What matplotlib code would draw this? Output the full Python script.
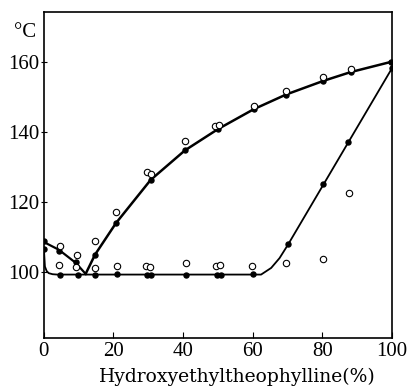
import matplotlib
matplotlib.use("Agg")
import matplotlib.pyplot as plt

# Curves
liq_left_x = [0, 4.3, 9.1, 12.0]
liq_left_y = [108.5, 106.3, 102.6, 99.4]
liq_right_x = [12.0, 14.7, 20.7, 30.7, 40.5, 50.0, 60.3, 69.6, 80.3, 88.1, 100]
liq_right_y = [99.4, 104.9, 113.9, 126.3, 134.7, 140.8, 146.5, 150.7, 154.6, 157.1, 160.1]
sol_x = [0, 0.3, 0.8, 1.4, 2.5, 3.8, 62.4, 65.3, 67.7, 70.1, 100]
sol_y = [106.7, 101.5, 100.2, 99.6, 99.3, 99.2, 99.2, 101.1, 103.9, 107.7, 158.2]

# Filled points
filled_x = [0, 4.4, 9.2, 14.7, 20.7, 30.7, 40.5, 49.9, 60.3, 69.6, 80.3, 88.1, 99.7,
            0, 4.6, 9.8, 14.7, 20.9, 29.6, 30.8, 40.9, 49.6, 50.9, 60.1,
            70.1, 80.3, 87.4, 100]
filled_y = [108.7, 106.0, 102.7, 104.9, 113.9, 126.3, 134.7, 140.8, 146.5, 150.7, 154.6, 157.1, 160.1,
            106.6, 99.2, 99.2, 99.2, 99.3, 99.2, 99.2, 99.2, 99.2, 99.2, 99.4,
            108.0, 125.0, 137.2, 158.2]

# Open points
open_x = [4.5, 4.4, 9.6, 9.3, 14.6, 14.7, 20.7, 20.9, 29.3, 30.5, 29.6, 30.7, 40.7, 40.5,
          49.4, 50.5, 49.2, 50.4, 59.9, 60.3, 69.7, 69.6, 80.3, 80.2, 87.8, 88.1]
open_y = [107.4, 101.9, 104.8, 101.3, 108.9, 101.1, 117.2, 101.7, 101.6, 101.4, 128.5, 127.9, 102.4, 137.3,
          101.6, 102.0, 141.7, 142.1, 101.6, 147.4, 102.4, 151.7, 103.7, 155.6, 122.4, 158.0]

xticks = [0, 20, 40, 60, 80, 100]
yticks = [100, 120, 140, 160]

plt.rcParams['font.family'] = ['Liberation Serif', 'DejaVu Serif']

fig = plt.figure(figsize=(4.10, 3.87), dpi=100)
ax = fig.add_axes([0.107, 0.127, 0.849, 0.842])

ax.plot(liq_left_x, liq_left_y, color='black', lw=1.6)
ax.plot(liq_right_x, liq_right_y, color='black', lw=1.8)
ax.plot(sol_x, sol_y, color='black', lw=1.3)
ax.plot(filled_x, filled_y, 'o', color='black', ms=3.6, zorder=3)
ax.plot(open_x, open_y, 'o', mfc='white', mec='black', ms=4.6, mew=0.8, zorder=4)

ax.set_xlim(0, 100)
ax.set_ylim(81.1, 174.3)
ax.set_xticks(xticks)
ax.set_yticks(yticks)
ax.tick_params(axis='x', direction='in', length=4, labelsize=15, pad=3)
ax.tick_params(axis='y', direction='inout', length=5, labelsize=15, pad=1)
for s in ax.spines.values():
    s.set_linewidth(1.2)

ax.set_xlabel('Hydroxyethyltheophylline(%)', fontsize=13.5, family='DejaVu Serif')
ax.xaxis.set_label_coords(0.555, -0.092)
fig.text(0.035, 0.915, '°C', fontsize=15, ha='left', va='center')

fig.savefig('out.png', dpi=100)
